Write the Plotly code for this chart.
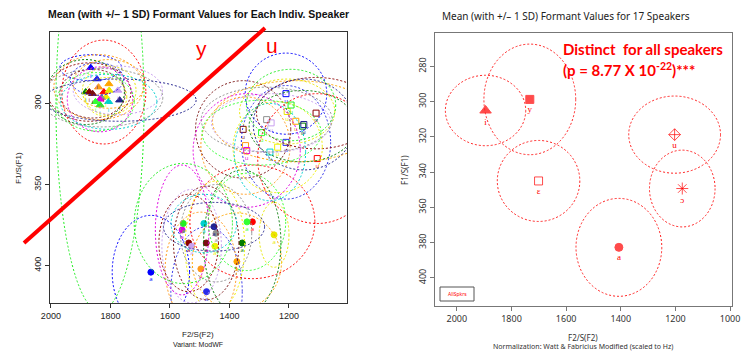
import plotly.graph_objects as go

W, H = 746, 352

# ---------------- Left panel data (17 speakers) ----------------
spk_colors = ["#0000FF", "#2A2AE8", "#FFA500", "#FF9A1A", "#007A00", "#8B0000",
              "#7A1010", "#FF0000", "#E8E800", "#F0F000", "#C9A0F0", "#909090",
              "#E000E0", "#00D0D0", "#23238E", "#22EE22", "#33FF33"]

i_f2 = [1866, 1845, 1805, 1840, 1883, 1871, 1860, 1822, 1804, 1815, 1775, 1830, 1835, 1806, 1769, 1835, 1850]
i_f1 = [278, 285, 288, 290, 293, 293, 294, 293, 292, 296, 292, 296.5, 297.5, 299, 298, 301, 299]
i_sd2 = [104, 90, 120, 150, 130, 140, 110, 141, 90, 70, 150, 206, 110, 162, 257, 148, 130]
i_sd1 = [8, 10, 15, 20, 20, 18, 15, 32, 15, 12, 15, 18, 20, 17, 13, 127, 18]

u_f2 = [1210, 1210, 1177, 1346, 1154, 1109, 1354, 1105, 1206, 1238, 1260, 1275, 1342, 1264, 1150, 1193, 1292]
u_f1 = [294, 324, 311, 326, 314, 306, 316, 334, 305, 327, 312, 310, 329, 330, 313, 301, 318]
u_sd2 = [137, 150, 280, 150, 180, 200, 160, 200, 160, 150, 200, 220, 180, 120, 170, 150, 200]
u_sd1 = [25, 35, 25, 30, 22, 22, 30, 40, 20, 28, 18, 20, 35, 30, 28, 22, 20]

a_f2 = [1664, 1477, 1375, 1496, 1357, 1537, 1478, 1323, 1250, 1449, 1527, 1445, 1559, 1486, 1452, 1555, 1341]
a_f1 = [404, 416, 397.5, 402, 386, 386, 386, 373, 381, 388, 388, 380, 378, 374, 376, 374, 373]
a_sd2 = [130, 120, 150, 120, 130, 100, 110, 210, 50, 100, 100, 120, 90, 110, 170, 165, 130]
a_sd1 = [35, 40, 30, 35, 45, 30, 35, 35, 20, 40, 35, 30, 40, 18, 15, 37, 30]

left_xticks = [2000, 1800, 1600, 1400, 1200]
left_yticks = [300, 350, 400]

# ---------------- Right panel data (all speakers) ----------------
vowels = ["i", "y", "u", "ɛ", "ɔ", "a"]
all_f2 = [1895, 1733, 1203, 1701, 1175, 1407]
all_f1 = [305, 298.7, 318.7, 345, 349.3, 382.7]
all_sd2 = [147, 168, 168, 151, 120, 157]
all_sd1 = [20, 31.4, 21.9, 23, 21.8, 27.8]
all_symbols = ["triangle-up", "square", "diamond-cross-open", "square-open", "asterisk-open", "circle"]

right_xticks = [2000, 1800, 1600, 1400, 1200, 1000]
right_yticks = [280, 300, 320, 340, 360, 380, 400]

# ---------------- Figure ----------------
def px(x):
    return x / W

def py(y):
    return 1 - y / H

fig = go.Figure()
shapes = []
DOT = "2px,2px"

# left panel ellipses
for k, c in enumerate(spk_colors):
    for (m2, m1, s2, s1) in [(i_f2[k], i_f1[k], i_sd2[k], i_sd1[k]),
                             (u_f2[k], u_f1[k], u_sd2[k], u_sd1[k]),
                             (a_f2[k], a_f1[k], a_sd2[k], a_sd1[k])]:
        shapes.append(dict(type="circle", xref="x", yref="y",
                           x0=m2 - s2, x1=m2 + s2, y0=m1 - s1, y1=m1 + s1,
                           line=dict(color=c, width=1, dash=DOT), layer="above"))

# left panel markers
for vals2, vals1, sym, lab in [(i_f2, i_f1, "triangle-up", "i"),
                               (u_f2, u_f1, "square-open", "u"),
                               (a_f2, a_f1, "circle", "a")]:
    fig.add_trace(go.Scatter(
        x=vals2, y=vals1, mode="markers+text", xaxis="x", yaxis="y",
        text=[lab] * len(vals2), textposition="bottom center",
        textfont=dict(size=6, color=spk_colors),
        marker=dict(symbol=sym, size=6 if sym != "triangle-up" else 7,
                    color=spk_colors, line=dict(width=1, color=spk_colors)),
        showlegend=False, hoverinfo="skip", cliponaxis=False))

# right panel ellipses
for k in range(len(vowels)):
    shapes.append(dict(type="circle", xref="x2", yref="y2",
                       x0=all_f2[k] - all_sd2[k], x1=all_f2[k] + all_sd2[k],
                       y0=all_f1[k] - all_sd1[k], y1=all_f1[k] + all_sd1[k],
                       line=dict(color="#FF2020", width=1, dash=DOT), layer="above"))

fig.add_trace(go.Scatter(
    x=all_f2, y=all_f1, mode="markers+text", xaxis="x2", yaxis="y2",
    text=vowels, textposition="bottom center",
    textfont=dict(size=9, color="#FF0000", family="Liberation Serif"),
    marker=dict(symbol=all_symbols, size=[10, 8, 9, 8, 10, 8], color="#FF0000",
                line=dict(width=1, color="#FF0000")),
    showlegend=False, hoverinfo="skip", cliponaxis=False))

# big red diagonal line (left panel)
shapes.append(dict(type="line", xref="paper", yref="paper",
                   x0=px(24), y0=py(243), x1=px(265), y1=py(28),
                   line=dict(color="#FF0000", width=4)))
# legend box (right panel)
shapes.append(dict(type="rect", xref="paper", yref="paper",
                   x0=px(440), y0=py(301), x1=px(474), y1=py(287),
                   line=dict(color="#555555", width=1)))

def ann(text, x, y, size, family, color, angle=0, xanchor="center"):
    return dict(text=text, x=px(x), y=py(y), xref="paper", yref="paper",
                showarrow=False, xanchor=xanchor, yanchor="middle", textangle=angle,
                font=dict(size=size, family=family, color=color))

annotations = [
    ann("<b>Mean (with +/– 1 SD) Formant Values for Each Indiv. Speaker</b>", 198, 14, 10.5,
        "Liberation Sans", "#111"),
    ann("y", 201, 48, 21, "Liberation Sans", "#FF0000"),
    ann("u", 272, 46, 21, "Liberation Sans", "#FF0000"),
    ann("F2/S(F2)", 198, 334, 8, "Liberation Sans", "#222"),
    ann("Variant: ModWF", 198, 344, 7, "Liberation Sans", "#222"),
    ann("F1/S(F1)", 18, 168, 8, "Liberation Sans", "#222", angle=-90),
    # right panel
    ann("Mean (with +/– 1 SD) Formant Values for 17 Speakers", 566, 16, 10, "Noto Sans", "#222"),
    ann("<b>Distinct  for all speakers</b>", 561, 49, 15, "Lato", "#FF0000", xanchor="left"),
    ann("<b>(p = 8.77 X 10<sup>-22</sup>)***</b>", 561, 69, 15, "Lato", "#FF0000", xanchor="left"),
    ann("F2/S(F2)", 583, 337, 8, "Noto Sans", "#333"),
    ann("Normalization: Watt & Fabricius Modified (scaled to Hz)", 583, 346, 7, "Noto Sans", "#333"),
    ann("F1/S(F1)", 404, 170, 8, "Noto Sans", "#333", angle=-90),
    ann("AllSpkrs", 457, 294, 5, "Noto Sans", "#FF0000"),
]

axis_common = dict(showgrid=False, zeroline=False, showline=True, mirror=True,
                   ticks="outside", ticklen=4, automargin=False)

fig.update_layout(
    width=W, height=H, margin=dict(l=0, r=0, t=0, b=0, pad=0, autoexpand=False),
    paper_bgcolor="white", plot_bgcolor="white", showlegend=False,
    xaxis=dict(domain=[px(50), px(347)], range=[2003, 1005], anchor="y",
               tickvals=left_xticks, linecolor="#333", tickcolor="#333",
               tickfont=dict(size=9, family="Liberation Sans", color="#222"), **axis_common),
    yaxis=dict(domain=[py(303), py(32)], range=[423, 256], anchor="x",
               tickvals=left_yticks, tickangle=-90, linecolor="#333", tickcolor="#333",
               tickfont=dict(size=9, family="Liberation Sans", color="#222"), **axis_common),
    xaxis2=dict(domain=[px(435), px(732)], range=[2080, 993], anchor="y2",
                tickvals=right_xticks, linecolor="#777", tickcolor="#777",
                tickfont=dict(size=9, family="Noto Sans", color="#333"), **axis_common),
    yaxis2=dict(domain=[py(306), py(33)], range=[416, 261], anchor="x2",
                tickvals=right_yticks, tickangle=-90, linecolor="#777", tickcolor="#777",
                tickfont=dict(size=9, family="Noto Sans", color="#333"), **axis_common),
    shapes=shapes, annotations=annotations,
)

fig.write_html("out.html", config={"displayModeBar": False},
               post_script="document.body.style.margin='0px';")
